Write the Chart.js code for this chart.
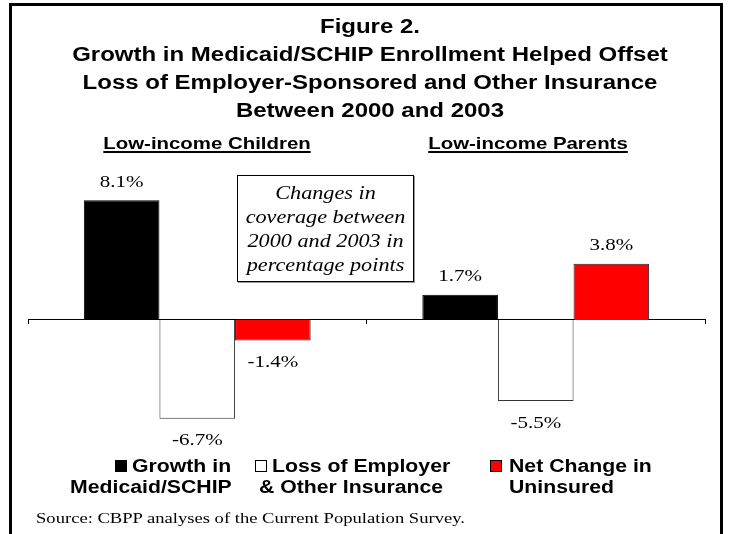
<!DOCTYPE html>
<html lang="en">
<head>
<meta charset="UTF-8">
<title>Figure 2. Growth in Medicaid/SCHIP Enrollment</title>
<script src="https://cdn.jsdelivr.net/npm/chart.js@4"></script>
<style>
  html, body { margin: 0; padding: 0; background: #fff; }
  body { width: 742px; height: 534px; position: relative; overflow: hidden; font-family: "Liberation Sans", Arial, sans-serif; color: #000; }
  #chart { position: absolute; left: 0; top: 0; }
  #frame { position: absolute; left: 9px; top: 3px; width: 708px; height: 560px; border: 3px solid #000; border-bottom: none; }
  .title { position: absolute; left: 0; top: 12px; width: 740px; text-align: center; font-weight: bold; font-size: 20px; line-height: 28px; transform: scaleX(1.2); }
  .group { position: absolute; top: 144px; font-weight: bold; font-size: 17px; white-space: nowrap;
           text-decoration: underline; text-decoration-thickness: 2px; text-underline-offset: 2px;
           transform: translate(-50%, -50%) scaleX(1.2); }
  #note { position: absolute; left: 237px; top: 175px; width: 175px; height: 105px; border: 1px solid #000;
          background: #fff; box-shadow: 1px 1px 0 #999; }
  #note div { font-family: "Liberation Serif", "Times New Roman", serif; font-style: italic; font-size: 18.5px;
              line-height: 24px; text-align: center; padding-top: 5px; transform: scaleX(1.2); white-space: nowrap; }
  .leg { position: absolute; font-weight: bold; font-size: 18px; white-space: nowrap; line-height: 20px;
         transform-origin: left center; transform: translateY(-50%) scaleX(1.18); }
  .sw { position: absolute; width: 10px; height: 10px; border: 1px solid #000; }
  #source { position: absolute; left: 36px; top: 518px; font-family: "Liberation Serif", "Times New Roman", serif;
            font-size: 15.5px; white-space: nowrap; transform-origin: left center; transform: translateY(-50%) scaleX(1.2); }
</style>
</head>
<body>
  <canvas id="chart" width="742" height="534"></canvas>
  <div id="frame"></div>
  <div class="title">Figure 2.<br>Growth in Medicaid/SCHIP Enrollment Helped Offset<br>Loss of Employer-Sponsored and Other Insurance<br>Between 2000 and 2003</div>
  <div class="group" style="left:207px">Low-income Children</div>
  <div class="group" style="left:528px">Low-income Parents</div>
  <div id="note"><div>Changes in<br>coverage between<br>2000 and 2003 in<br>percentage points</div></div>

  <div class="sw" style="left:115px; top:460px; background:#000"></div>
  <div class="leg" style="left:132px; top:466px">Growth in</div>
  <div class="leg" style="left:70px; top:487px">Medicaid/SCHIP</div>
  <div class="sw" style="left:255px; top:460px; background:#fff"></div>
  <div class="leg" style="left:272px; top:466px">Loss of Employer</div>
  <div class="leg" style="left:259px; top:487px">&amp; Other Insurance</div>
  <div class="sw" style="left:490px; top:460px; background:#ff0000"></div>
  <div class="leg" style="left:509px; top:466px">Net Change in</div>
  <div class="leg" style="left:509px; top:487px">Uninsured</div>

  <div id="source">Source: CBPP analyses of the Current Population Survey.</div>

  <script>
    const groups = ["Low-income Children", "Low-income Parents"];
    const seriesNames = ["Growth in Medicaid/SCHIP", "Loss of Employer & Other Insurance", "Net Change in Uninsured"];
    const medicaidGrowth = [8.1, 1.7];
    const employerLoss = [-6.7, -5.5];
    const uninsuredChange = [-1.4, 3.8];
    const yMin = -8;
    const yMax = 9;

    // value labels above / below each bar, stretched like the original
    const valueLabels = {
      id: "valueLabels",
      afterDatasetsDraw(chart) {
        const ctx = chart.ctx;
        ctx.save();
        ctx.font = '17.5px "Liberation Serif", "Times New Roman", serif';
        ctx.fillStyle = "#000";
        ctx.textAlign = "center";
        ctx.textBaseline = "middle";
        chart.data.datasets.forEach((ds, i) => {
          chart.getDatasetMeta(i).data.forEach((bar, j) => {
            const v = ds.data[j];
            const y = v >= 0 ? bar.y - 18 : bar.y + 22;
            ctx.save();
            ctx.translate(bar.x, y);
            ctx.scale(1.2, 1);
            ctx.fillText(v.toFixed(1) + "%", 0, 0);
            ctx.restore();
          });
        });
        ctx.restore();
      }
    };

    new Chart(document.getElementById("chart"), {
      type: "bar",
      data: {
        labels: groups,
        datasets: [
          { label: seriesNames[0], data: medicaidGrowth, backgroundColor: "#000", borderColor: "#000", borderWidth: 1 },
          { label: seriesNames[1], data: employerLoss, backgroundColor: "#fff", borderColor: "#333", borderWidth: 1 },
          { label: seriesNames[2], data: uninsuredChange, backgroundColor: "#ff0000", borderColor: "#222", borderWidth: 1 }
        ]
      },
      options: {
        responsive: false,
        animation: false,
        categoryPercentage: 0.67,
        barPercentage: 1.0,
        layout: { padding: { left: 28, right: 37, top: 187, bottom: 96 } },
        plugins: { legend: { display: false }, tooltip: { enabled: false } },
        scales: {
          y: { display: false, min: yMin, max: yMax },
          x: {
            position: { y: 0 },
            ticks: { display: false },
            grid: { drawOnChartArea: false, drawTicks: true, tickLength: 4, color: "#000", offset: true },
            border: { display: true, color: "#000", width: 1 }
          }
        }
      },
      plugins: [valueLabels]
    });
  </script>
</body>
</html>
